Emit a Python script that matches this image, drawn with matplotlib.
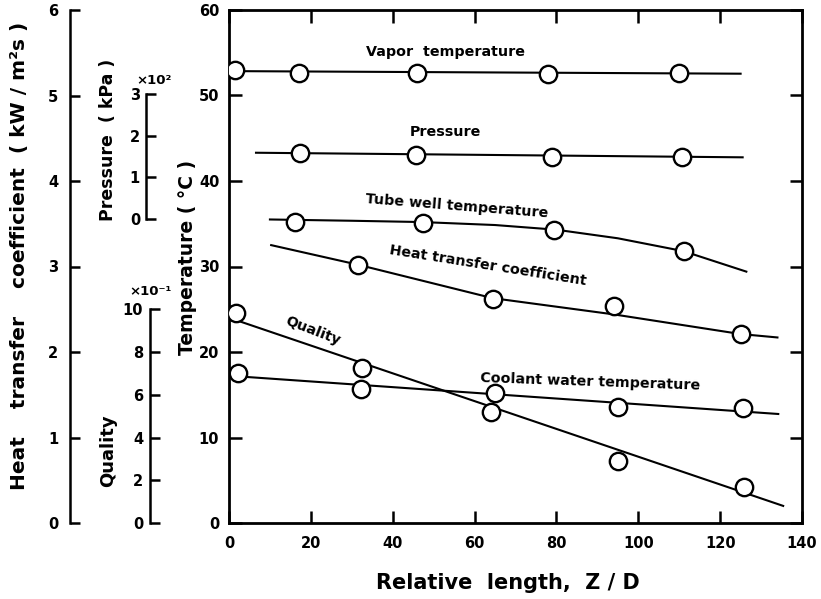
import matplotlib
matplotlib.use("Agg")
import matplotlib.pyplot as plt

plt.rcParams['font.family'] = ['DejaVu Sans']
plt.rcParams['font.weight'] = 'bold'

# ---------------- data ----------------
# Relative length Z/D positions of measurement stations
vapor_x = [1.5, 17, 46, 78, 110]
vapor_T = [53.0, 52.6, 52.6, 52.55, 52.6]          # deg C
vapor_fit_x = [1.5, 125]
vapor_fit_T = [52.85, 52.55]

pres_x = [17.3, 45.8, 79, 110.8]
pres_p = [1.58, 1.54, 1.49, 1.49]                    # x10^2 kPa
pres_fit_x = [6.6, 125.5]
pres_fit_p = [1.59, 1.48]

wall_x = [16.1, 47.4, 79.5, 111.2]
wall_T = [35.2, 35.1, 34.3, 31.8]                    # deg C
wall_fit_x = [10, 30, 47, 65, 80, 95, 111, 126.4]
wall_fit_T = [35.5, 35.35, 35.2, 34.85, 34.3, 33.3, 31.8, 29.4]

htc_x = [31.6, 64.4, 94.1, 125]
htc_h = [3.02, 2.62, 2.54, 2.21]                     # kW/m2s
htc_fit_x = [10.3, 31.6, 64.4, 94, 125, 134]
htc_fit_h = [3.25, 3.02, 2.63, 2.44, 2.21, 2.17]

qual_x = [1.8, 32.6, 63.9, 95, 125.8]
qual_q = [9.82, 7.25, 5.19, 2.9, 1.68]               # x10^-1
qual_fit_x = [0.2, 135.4]
qual_fit_q = [9.59, 0.80]

cool_x = [2.3, 32.2, 65, 95, 125.6]
cool_T = [17.5, 15.7, 15.2, 13.6, 13.45]             # deg C
cool_fit_x = [0.7, 134.2]
cool_fit_T = [17.2, 12.75]

x_ticks = [0, 20, 40, 60, 80, 100, 120, 140]
temp_ticks = [0, 10, 20, 30, 40, 50, 60]
htc_ticks = [0, 1, 2, 3, 4, 5, 6]
pres_ticks = [0, 1, 2, 3]
qual_ticks = [0, 2, 4, 6, 8, 10]

# ---------------- figure ----------------
fig = plt.figure(figsize=(8.21, 5.99), dpi=100)
rect = [229 / 821, 76 / 599, 573 / 821, 513 / 599]
ax = fig.add_axes(rect)
ax.set_facecolor('none')
ax.set_xlim(0, 140)
ax.set_ylim(0, 60)
ax.set_xticks(x_ticks)
ax.set_yticks(temp_ticks)
for s in ax.spines.values():
    s.set_linewidth(2.0)
ax.tick_params(direction='in', length=9, width=1.8, top=True, right=True,
               labelsize=10.5, pad=7)
ax.tick_params(axis='x', pad=9)

LW = 1.5
MK = dict(marker='o', ms=12.5, mfc='white', mec='black', mew=1.7, ls='none', zorder=5)


def side_axis(spine_frac, ylim, bounds, ticks, pad):
    a = fig.add_axes(rect, sharex=ax)
    a.set_facecolor('none')
    for s in ['top', 'right', 'bottom']:
        a.spines[s].set_visible(False)
    a.spines['left'].set_position(('axes', spine_frac))
    a.spines['left'].set_bounds(*bounds)
    a.spines['left'].set_linewidth(1.8)
    a.set_ylim(*ylim)
    a.set_yticks(ticks)
    a.tick_params(axis='y', direction='in', length=7, width=1.8, pad=pad,
                  labelsize=10.5)
    a.tick_params(axis='x', bottom=False, labelbottom=False, top=False,
                  labeltop=False)
    return a


ax_h = side_axis(-0.2775, (0, 6), (0, 6), htc_ticks, 8.5)
ax_p = side_axis(-0.1449, (-7.297, 5.016), (0, 3), pres_ticks, 4.3)
ax_q = side_axis(-0.1379, (0, 24), (0, 10), qual_ticks, 5)

# ---------------- series ----------------
ax.plot(vapor_fit_x, vapor_fit_T, color='black', lw=LW)
ax.plot(vapor_x, vapor_T, **MK)
ax_p.plot(pres_fit_x, pres_fit_p, color='black', lw=LW)
ax_p.plot(pres_x, pres_p, **MK)
ax.plot(wall_fit_x, wall_fit_T, color='black', lw=LW)
ax.plot(wall_x, wall_T, **MK)
ax_h.plot(htc_fit_x, htc_fit_h, color='black', lw=LW)
ax_h.plot(htc_x, htc_h, **MK)
ax_q.plot(qual_fit_x, qual_fit_q, color='black', lw=LW)
ax_q.plot(qual_x, qual_q, **MK)
ax.plot(cool_fit_x, cool_fit_T, color='black', lw=LW)
ax.plot(cool_x, cool_T, **MK)
ax.set_xlim(0, 140)

# ---------------- curve labels ----------------
TK = dict(ha='center', va='center', rotation_mode='anchor', fontsize=10.3,
          fontweight='bold', zorder=6)
ax.text(53.0, 55.1, 'Vapor  temperature', **TK)
ax.text(52.8, 45.7, 'Pressure', **TK)
ax.text(55.7, 37.1, 'Tube well temperature', rotation=-4.5, **TK)
ax.text(63.3, 30.06, 'Heat transfer coefficient', rotation=-9, **TK)
ax.text(20.5, 22.46, 'Quality', rotation=-21, **TK)
ax.text(88.2, 16.5, 'Coolant water temperature', rotation=-2, **TK)

# ---------------- axis titles ----------------
fig.text(508 / 821, 1 - 583 / 599, 'Relative  length,  Z / D', ha='center',
         va='center', fontsize=15, fontweight='bold')
fig.text(20 / 821, 1 - 256 / 599, 'Heat    transfer    coefficient  ( kW / m²s )',
         rotation=90, ha='center', va='center', fontsize=14.5, fontweight='bold')
fig.text(108 / 821, 1 - 140 / 599, 'Pressure  ( kPa )', rotation=90,
         ha='center', va='center', fontsize=12.5, fontweight='bold')
fig.text(108 / 821, 1 - 451 / 599, 'Quality', rotation=90, ha='center',
         va='center', fontsize=13, fontweight='bold')
fig.text(187 / 821, 1 - 257 / 599, 'Temperature ( °C )', rotation=90,
         ha='center', va='center', fontsize=13.5, fontweight='bold')
fig.text(154 / 821, 1 - 81 / 599, '×10²', ha='center', va='center',
         fontsize=9.5, fontweight='bold')
fig.text(151 / 821, 1 - 291 / 599, '×10⁻¹', ha='center', va='center',
         fontsize=9.5, fontweight='bold')

fig.savefig('out.png', dpi=100)
